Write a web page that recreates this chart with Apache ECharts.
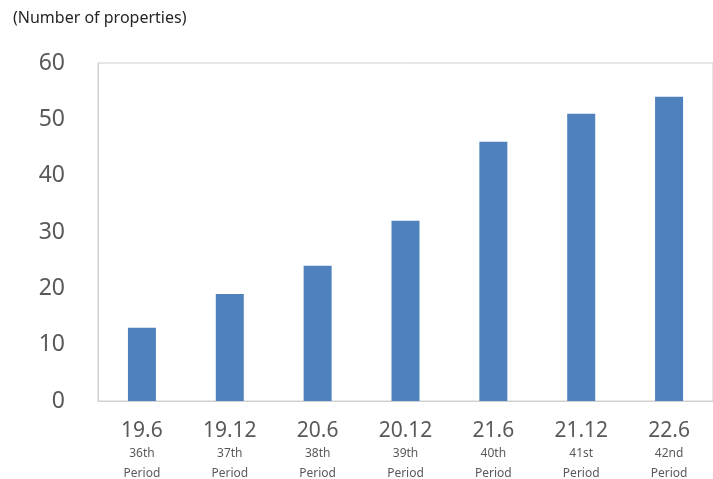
<!DOCTYPE html>
<html>
<head>
<meta charset="utf-8">
<script src="https://cdn.jsdelivr.net/npm/echarts@6/dist/echarts.min.js"></script>
<style>
  html, body { margin: 0; padding: 0; background: #fff; }
  #chart { width: 713px; height: 479px; }
</style>
</head>
<body>
<div id="chart"></div>
<script>
// data
const dates = ['19.6', '19.12', '20.6', '20.12', '21.6', '21.12', '22.6'];
const periods = ['36th', '37th', '38th', '39th', '40th', '41st', '42nd'];
const properties = [13, 19, 24, 32, 46, 51, 54];

const chart = echarts.init(document.getElementById('chart'));

chart.setOption({
  animation: false,
  textStyle: { fontFamily: 'Noto Sans' },
  title: {
    text: '(Number of properties)',
    left: 8,
    top: 5,
    textStyle: { fontSize: 16, fontWeight: 'normal', color: '#262626', fontFamily: 'Noto Sans' }
  },
  grid: {
    left: 98,
    right: 0,
    top: 63,
    bottom: 78,
    outerBoundsMode: 'none',
    show: true,
    borderColor: '#d0d0d0',
    borderWidth: 1
  },
  xAxis: {
    type: 'category',
    data: dates.map((d, i) => d + '\n' + periods[i] + '\nPeriod'),
    axisLine: { show: true, lineStyle: { color: '#d0d0d0' } },
    axisTick: { show: false },
    axisLabel: {
      margin: 17,
      interval: 0,
      formatter: function (v) {
        const p = v.split('\n');
        return '{a|' + p[0] + '}\n{b|' + p[1] + '}\n{b|' + p[2] + '}';
      },
      rich: {
        a: { fontSize: 21, color: '#595959', lineHeight: 26, fontFamily: 'Noto Sans' },
        b: { fontSize: 12, color: '#595959', lineHeight: 20, fontFamily: 'Noto Sans' }
      }
    }
  },
  yAxis: {
    type: 'value',
    min: 0,
    max: 60,
    interval: 10,
    axisLine: { show: true, lineStyle: { color: '#d0d0d0' } },
    axisTick: { show: false },
    splitLine: { show: false },
    axisLabel: { fontSize: 23, color: '#595959', margin: 33, fontFamily: 'Noto Sans' }
  },
  series: [{
    type: 'bar',
    data: properties,
    barWidth: 28,
    itemStyle: { color: '#4f81bd' }
  }]
});
</script>
</body>
</html>
